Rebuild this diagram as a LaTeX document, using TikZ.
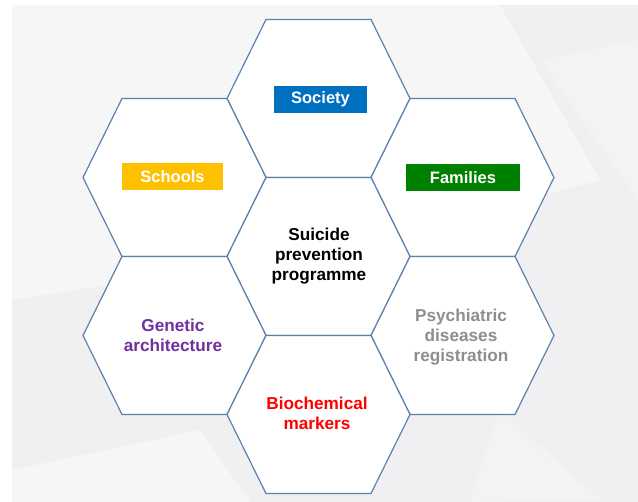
\documentclass[tikz,border=0pt]{standalone}
\usepackage{fontspec}
\setmainfont{Liberation Sans}
\begin{document}
\begin{tikzpicture}[x=1pt,y=-1pt,
  hexline/.style={draw=hexblue,line width=1.2pt,fill=white,line join=miter},
  lbl/.style={font=\fontsize{17.2}{20.2}\selectfont\bfseries,align=center,inner sep=0pt},
  tag/.style={lbl,font=\fontsize{16.5}{20}\selectfont\bfseries,text=white,minimum height=27pt,inner xsep=0pt}]
\definecolor{hexblue}{HTML}{5A82AC}
\definecolor{bggray}{HTML}{F0F0F2}
\definecolor{bglight}{HTML}{F6F6F7}
\definecolor{socblue}{HTML}{0070C0}
\definecolor{schyellow}{HTML}{FFC000}
\definecolor{famgreen}{HTML}{008000}
\definecolor{genpurple}{HTML}{7030A0}
\definecolor{biored}{HTML}{FF0000}
\definecolor{psygray}{HTML}{8E8E8E}
\useasboundingbox (0,0) rectangle (638,502);
% background
\fill[white] (0,0) rectangle (638,502);
\fill[bggray] (12,5) rectangle (638,502);
\fill[bglight] (12,5) -- (500,5) -- (600,180) -- (330,250) -- (12,300) -- cycle;
\fill[bglight] (12,470) -- (200,430) -- (250,502) -- (12,502) -- cycle;
\fill[white,opacity=0.25] (540,60) -- (638,40) -- (638,200) -- cycle;
\fill[white,opacity=0.25] (500,410) -- (600,500) -- (470,502) -- cycle;
% hexagons
\def\ha{91.5}\def\hb{52.5}\def\hh{79}
\foreach \n/\x/\y in {soc/318.5/98.5, sch/174.5/177.5, fam/462.5/177.5,
  cen/318.5/256.5, gen/174.5/335.5, psy/462.5/335.5, bio/318.5/414.5}{
  \coordinate (\n) at (\x,\y);
  \draw[hexline] ([xshift=-\ha pt]\n) -- ([xshift=-\hb pt,yshift=\hh pt]\n)
    -- ([xshift=\hb pt,yshift=\hh pt]\n) -- ([xshift=\ha pt]\n)
    -- ([xshift=\hb pt,yshift=-\hh pt]\n) -- ([xshift=-\hb pt,yshift=-\hh pt]\n) -- cycle;
}
% labels
\node[tag,fill=socblue,minimum width=93pt] (socl) at (320.5,99.5) {Society};
\node[tag,fill=schyellow,minimum width=101pt] (schl) at (172.5,176.5) {Schools};
\node[tag,fill=famgreen,minimum width=114pt] (faml) at (463,178) {Families};
\node[lbl,text=black] (cenl) at (319,256) {Suicide\\prevention\\programme};
\node[lbl,text=genpurple] (genl) at (173,335) {Genetic\\architecture};
\node[lbl,text=biored] (biol) at (317,413) {Biochemical\\markers};
\node[lbl,text=psygray] (psyl) at (461,337) {Psychiatric\\diseases\\registration};
\end{tikzpicture}
\end{document}
